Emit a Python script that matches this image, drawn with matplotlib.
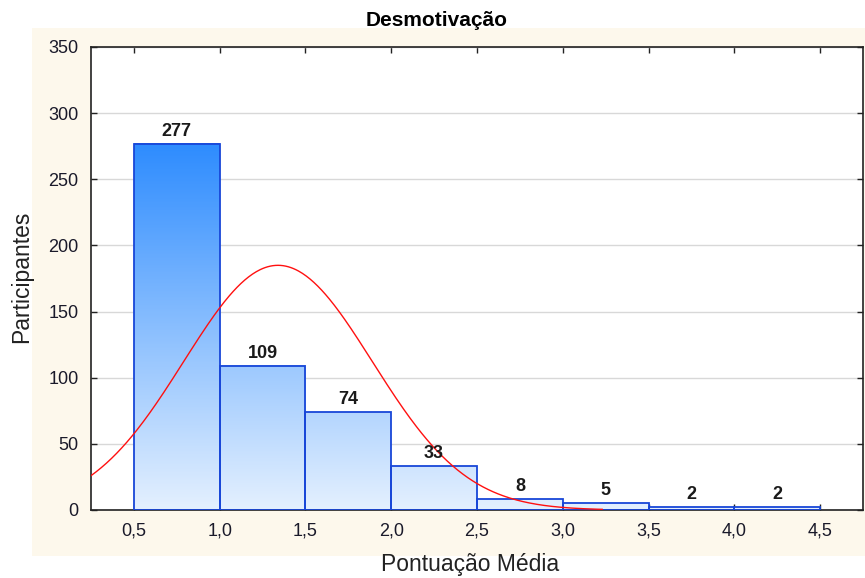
import numpy as np
import matplotlib
matplotlib.use("Agg")
import matplotlib.pyplot as plt
from matplotlib.colors import LinearSegmentedColormap
from matplotlib.patches import Rectangle

plt.rcParams['font.family'] = ['Liberation Sans', 'DejaVu Sans']

# Data
bin_edges = [0.5, 1.0, 1.5, 2.0, 2.5, 3.0, 3.5, 4.0, 4.5]
counts = [277, 109, 74, 33, 8, 5, 2, 2]
x_ticks = [0.5, 1.0, 1.5, 2.0, 2.5, 3.0, 3.5, 4.0, 4.5]
x_tick_labels = ["0,5", "1,0", "1,5", "2,0", "2,5", "3,0", "3,5", "4,0", "4,5"]
y_ticks = [0, 50, 100, 150, 200, 250, 300, 350]
fit_mean = 1.34
fit_sd = 0.55
curve_end = 3.23

W, H = 865, 578
fig = plt.figure(figsize=(W / 100, H / 100), dpi=100)
fig.patch.set_facecolor('white')

bg = fig.add_axes([32 / W, 1 - 556 / H, (W - 32) / W, (556 - 28) / H], zorder=-10)
bg.set_facecolor('#FDF8EC')
bg.set_xticks([]); bg.set_yticks([])
for s in bg.spines.values():
    s.set_visible(False)

ax = fig.add_axes([91 / W, 1 - 510 / H, 772 / W, 463 / H], zorder=1)
ax.set_facecolor('white')

cmap = LinearSegmentedColormap.from_list('g', ['#E4F0FE', '#2E8CFF'])
vmax = max(counts)
for i, c in enumerate(counts):
    x0, x1 = bin_edges[i], bin_edges[i + 1]
    grad = np.linspace(c, 0, 200).reshape(-1, 1)
    ax.imshow(grad, extent=(x0, x1, 0, c), aspect='auto', cmap=cmap,
              vmin=0, vmax=vmax, zorder=2, interpolation='bilinear')
    ax.add_patch(Rectangle((x0, 0), x1 - x0, c, facecolor='none',
                           edgecolor='#1846D8', linewidth=1.3, zorder=3))
    ax.text((x0 + x1) / 2, c + 3, str(c), ha='center', va='bottom',
            fontsize=13, fontweight='bold', color='#1a1a1a', zorder=5)
ax.set_xlim(0.25, 4.75)
ax.set_ylim(0, 350)

# normal fit curve
N = sum(counts)
bw = bin_edges[1] - bin_edges[0]
xs = np.linspace(0.25, curve_end, 400)
ys = N * bw / (fit_sd * np.sqrt(2 * np.pi)) * np.exp(-0.5 * ((xs - fit_mean) / fit_sd) ** 2)
ax.plot(xs, ys, color='#FF1010', linewidth=1.0, zorder=4)

ax.set_xticks(x_ticks)
ax.set_xticklabels(x_tick_labels)
ax.set_yticks(y_ticks)
ax.yaxis.grid(True, color='#D8D8D8', linewidth=1.0, zorder=1)
ax.set_axisbelow(True)
ax.tick_params(direction='in', top=True, right=True, length=4, width=1,
               labelsize=13, colors='#222222', labelcolor='#1a1a2a', pad=9)
for s in ax.spines.values():
    s.set_linewidth(1.2)
    s.set_color('#222222')

fig.text(437 / W, 1 - 20 / H, "Desmotivação", ha='center', va='center',
         fontsize=15, fontweight='bold', color='black')
fig.text(470 / W, 1 - 565 / H, "Pontuação Média", ha='center', va='center',
         fontsize=16.5, color='#222222')
fig.text(22 / W, 1 - 277 / H, "Participantes", ha='center', va='center',
         rotation=90, fontsize=16.5, color='#222222')

fig.savefig("out.png", dpi=100, facecolor=fig.get_facecolor())
